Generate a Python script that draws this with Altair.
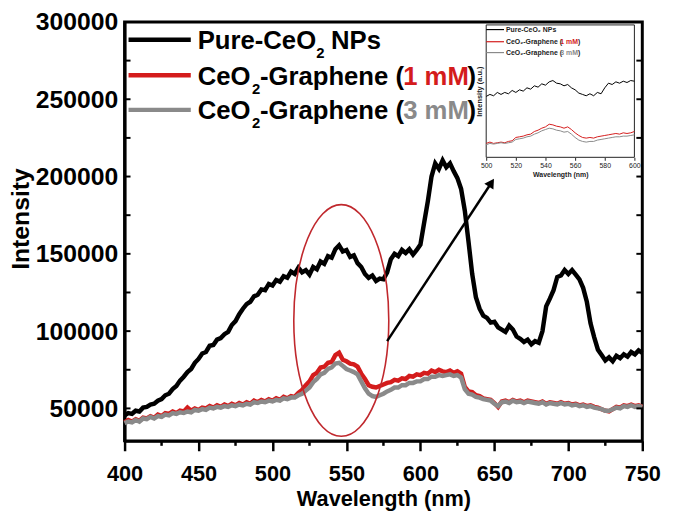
import altair as alt
import pandas as pd

FONT = "Liberation Sans"

# ---------------- data ----------------
wavelength = [400 + 2.5 * i for i in range(141)]

pure_ceo2 = [
    45500, 47000, 46500, 48500, 48000, 50500, 51000, 52500, 53000, 55000,
    56000, 58500, 59500, 62500, 64500, 68000, 70500, 73500, 75500, 79500,
    82000, 85500, 86500, 90500, 91000, 94500, 95500, 98000, 99500, 104000,
    106500, 111000, 114500, 117500, 119000, 122500, 123500, 127000, 126500, 130500,
    129500, 133000, 132000, 135500, 134500, 138500, 137000, 141000, 138000, 139500,
    136500, 141500, 140000, 145000, 143500, 148500, 147500, 153000, 155500, 151500,
    152500, 148000, 149000, 144000, 141500, 137000, 134500, 136000, 132500, 134000,
    133500, 138000, 146500, 150000, 148500, 152500, 150500, 153000, 149500, 152500,
    156000, 170000, 184000, 200000, 208500, 205000, 210500, 206000, 208500, 203500,
    199000, 192000, 178000, 158000, 137000, 122000, 114500, 110000, 108500, 105500,
    106000, 102500, 101000, 99500, 103500, 101000, 96500, 95000, 93000, 94500,
    91500, 93500, 92500, 100000, 116000, 121000, 126500, 135000, 136000, 139500,
    137000, 139500, 136500, 133500, 128000, 119000, 105000, 96000, 88000, 84500,
    81000, 83000, 80500, 84000, 82500, 85000, 83500, 86500, 85000, 87500,
    86000,
]

graphene_1mM = [
    41000, 42500, 41500, 43000, 42000, 44000, 43500, 45000, 44000, 46000,
    45000, 47000, 46500, 48000, 47000, 48500, 48000, 50500, 48500, 50000,
    49000, 50500, 50000, 51500, 50500, 52000, 51000, 52500, 51500, 53000,
    52000, 53500, 52500, 54000, 53000, 55000, 54000, 55500, 54500, 56000,
    55000, 56500, 55500, 57500, 56500, 58000, 57500, 60000, 62000, 65000,
    67500, 71500, 73000, 76500, 77000, 79500, 80000, 84500, 86000, 81500,
    80500, 79000, 78500, 77000, 72500, 69000, 65000, 64000, 63500, 64500,
    65500, 66500, 67000, 68500, 68000, 69500, 69000, 71000, 70500, 72000,
    71500, 73000, 72500, 74500, 73500, 75000, 74000, 73500, 74500, 73000,
    74000, 72500, 64000, 61000, 60500, 58500, 58000, 56500, 56000, 55500,
    53500, 51000, 54500, 55000, 54000, 55500, 54500, 55000, 54000, 55000,
    54500, 54000, 53500, 54500, 53000, 54000, 53500, 53000, 54000, 53000,
    53500, 52500, 53000, 52000, 52500, 51500, 52000, 51000, 50500, 49500,
    48500, 48000, 49500, 51000, 50500, 52000, 51500, 52500, 51500, 52000,
    51000,
]

graphene_3mM = [
    40500, 41500, 41000, 42500, 41500, 43500, 43000, 44500, 43500, 45000,
    44500, 46000, 45500, 47000, 46500, 47500, 47000, 48000, 47500, 49000,
    48500, 49500, 49000, 50500, 50000, 51000, 50500, 51500, 51000, 52000,
    51500, 52500, 52000, 53000, 52500, 54000, 53500, 54500, 54000, 55000,
    54500, 55500, 55000, 56500, 56000, 57000, 57000, 58500, 59500, 61500,
    63500, 67000, 69000, 72000, 73000, 75500, 76500, 79000, 79500, 77500,
    75500, 74500, 73500, 72000, 67500, 63000, 59500, 58000, 57500, 58500,
    59500, 61000, 62000, 63500, 63500, 65000, 65000, 66500, 66500, 67500,
    67500, 69000, 69000, 70500, 70500, 71500, 71000, 71500, 72000, 71000,
    71500, 70000, 62500, 59500, 59000, 57500, 57000, 56000, 55500, 55000,
    53000, 51500, 54000, 54500, 53500, 55000, 54000, 54500, 53500, 54500,
    54000, 53500, 53000, 54000, 52500, 53500, 53000, 52500, 53500, 52500,
    53000, 52000, 52500, 51500, 52000, 51000, 51500, 50500, 50000, 49500,
    48500, 48500, 49500, 50500, 50000, 51500, 51000, 52000, 51000, 51500,
    51000,
]

inset_wavelength = [500 + 2.5 * i for i in range(41)]

inset_pure = [
    46, 47.5, 46.5, 49, 47.5, 49, 48, 50.5, 49, 51,
    50, 52.5, 51.5, 54, 53, 55.5, 54.5, 57, 58, 56,
    55.5, 54, 55, 52.5, 51, 48.5, 47.5, 46.5, 48, 46.5,
    49, 48, 52.5, 56, 55, 57, 56, 57.5, 56.5, 58,
    57.5,
]
inset_1mM = [
    10.5, 11.5, 10.5, 11, 11.5, 11, 12, 12.5, 15, 15.5,
    16, 17, 17.5, 19.5, 20.5, 22, 23, 25, 24.5, 23.5,
    23, 22, 23, 21, 18.5, 16.5, 15, 14.5, 15, 14.5,
    15.5, 16, 16.5, 17, 17.5, 18, 17.5, 18.5, 18, 18.5,
    19.5,
]
inset_3mM = [
    9.5, 10.5, 10, 10.5, 11, 10.5, 11, 11.5, 13.5, 14,
    14.5, 15.5, 16, 17.5, 18.5, 20, 21, 22, 21.5, 20.5,
    20, 19, 19.5, 17.5, 15, 13, 12, 11.5, 12, 12,
    13, 13.5, 14, 14.5, 15, 15.5, 15.5, 16, 16, 16.5,
    17,
]

x_ticks = [400, 450, 500, 550, 600, 650, 700, 750]
x_minor = [425, 475, 525, 575, 625, 675, 725]
y_ticks = [50000, 100000, 150000, 200000, 250000, 300000]
y_inner = [50000, 75000, 100000, 125000, 150000, 175000, 200000, 225000, 250000, 275000]
inset_ticks = [500, 520, 540, 560, 580, 600]

# annotation anchors (data coordinates)
ELLIPSE_CENTER = (546.5, 106900)
ARROW_START = (577.5, 93500)
ARROW_END = (648.0, 196000)

BLACK = "#000000"
RED = "#d41c1c"
GRAY = "#8a8a8a"
ELLIPSE_RED = "#c0282d"
INSET_TXT = "#222222"

W, H = 524, 424

# ---------------- tables ----------------
def series_df(x, y):
    return pd.DataFrame({"wl": x, "I": y})

df_pure = series_df(wavelength, pure_ceo2)
df_1 = series_df(wavelength, graphene_1mM)
df_3 = series_df(wavelength, graphene_3mM)
di_pure = series_df(inset_wavelength, inset_pure)
di_1 = series_df(inset_wavelength, inset_1mM)
di_3 = series_df(inset_wavelength, inset_3mM)
one = pd.DataFrame({"k": [0]})

xs = alt.Scale(domain=[400, 750], nice=False, zero=False)
ys = alt.Scale(domain=[29000, 300000], nice=False, zero=False)

x_axis = alt.Axis(
    values=x_ticks, format="d", title="Wavelength (nm)", grid=False,
    labelFont=FONT, labelFontSize=22, labelFontWeight="bold", labelColor="black",
    labelPadding=13, labelFlush=False, labelOverlap=False,
    tickSize=10, tickWidth=2.5, tickColor="black",
    domainColor="black", domainWidth=3,
    titleFont=FONT, titleFontSize=22, titleFontWeight="bold", titleColor="black",
    titlePadding=4,
)
y_axis = alt.Axis(
    values=y_ticks, format="d", title="Intensity", grid=False,
    labelFont=FONT, labelFontSize=25, labelFontWeight="bold", labelColor="black",
    labelPadding=7, labelFlush=False, labelOverlap=False,
    ticks=False, tickSize=0,
    domainColor="black", domainWidth=3,
    titleFont=FONT, titleFontSize=25, titleFontWeight="bold", titleColor="black",
    titleAngle=270, titleAlign="center", titleBaseline="middle",
    titleX=-105, titleY=199,
)


def main_line(df, color):
    return alt.Chart(df).mark_line(color=color, strokeWidth=4.5).encode(
        x=alt.X("wl:Q", scale=xs, axis=x_axis),
        y=alt.Y("I:Q", scale=ys, axis=y_axis),
    )


def txt(s, x, y, size, color="black", weight="bold", align="left", baseline="alphabetic"):
    return alt.Chart(one).mark_text(
        text=s, font=FONT, fontSize=size, fontWeight=weight, color=color,
        align=align, baseline=baseline,
    ).encode(x=alt.value(x), y=alt.value(y))


def hline(x1, x2, y, color, w):
    return alt.Chart(one).mark_rule(color=color, strokeWidth=w).encode(
        x=alt.value(x1), x2=alt.value(x2), y=alt.value(y)
    )


minor_x = alt.Chart(pd.DataFrame({"wl": x_minor})).mark_rule(
    color="black", strokeWidth=2.5
).encode(x=alt.X("wl:Q", scale=xs), y=alt.value(H), y2=alt.value(H + 5))

inner_left = alt.Chart(pd.DataFrame({"I": y_inner})).mark_rule(
    color="black", strokeWidth=2
).encode(y=alt.Y("I:Q", scale=ys), x=alt.value(0), x2=alt.value(6))
inner_right = alt.Chart(pd.DataFrame({"I": y_inner})).mark_rule(
    color="black", strokeWidth=2
).encode(y=alt.Y("I:Q", scale=ys), x=alt.value(W - 6), x2=alt.value(W))

ELLIPSE_PATH = "M -0.41 0 A 0.41 1 0 1 1 0.41 0 A 0.41 1 0 1 1 -0.41 0 Z"
ellipse = alt.Chart(one).mark_point(
    shape=ELLIPSE_PATH, filled=False, color=ELLIPSE_RED, strokeWidth=1.6,
    size=55000, opacity=1,
).encode(x=alt.datum(ELLIPSE_CENTER[0]), y=alt.datum(ELLIPSE_CENTER[1]))

arrow_line = alt.Chart(one).mark_rule(color="black", strokeWidth=2.5).encode(
    x=alt.datum(ARROW_START[0]), y=alt.datum(ARROW_START[1]),
    x2=alt.datum(ARROW_END[0]), y2=alt.datum(ARROW_END[1]),
)
arrow_head = alt.Chart(one).mark_point(
    shape="triangle-up", filled=True, color="black", size=120, angle=33, opacity=1
).encode(x=alt.datum(ARROW_END[0]), y=alt.datum(ARROW_END[1]))

LF = 26
legend_main = [
    hline(4, 67, 18, BLACK, 4.5),
    hline(4, 67, 54, RED, 4.5),
    hline(4, 67, 89, GRAY, 4.5),
    txt("Pure-CeO", 74, 27, LF),
    txt("2", 194, 36, 15),
    txt("NPs", 209, 27, LF),
    txt("CeO", 74, 63.7, LF),
    txt("2", 129, 72.7, 15),
    txt("-Graphene (", 137, 63.7, LF),
    txt("1 mM", 282, 63.7, LF, color=RED),
    txt(")", 347, 63.7, LF),
    txt("CeO", 74, 98.7, LF),
    txt("2", 129, 107.7, 15),
    txt("-Graphene (", 137, 98.7, LF),
    txt("3 mM", 282, 98.7, LF, color=GRAY),
    txt(")", 347, 98.7, LF),
]

main = alt.layer(
    main_line(df_pure, BLACK),
    main_line(df_1, RED),
    main_line(df_3, GRAY),
    minor_x, inner_left, inner_right,
    ellipse, arrow_line, arrow_head,
    *legend_main,
)

# ---------------- inset ----------------
ixs = alt.Scale(domain=[500, 600], range=[366, 516], nice=False, zero=False)
iys = alt.Scale(domain=[0, 100], range=[137, 3], nice=False, zero=False)
ix_axis = alt.Axis(
    values=inset_ticks, format="d", orient="bottom", offset=-(H - 137), grid=False,
    domain=False, tickSize=3, tickColor=INSET_TXT, tickWidth=1,
    labelFont=FONT, labelFontSize=7, labelColor=INSET_TXT, labelPadding=1,
    labelFlush=False, labelOverlap=False,
    title="Wavelength (nm)", titleFont=FONT, titleFontSize=7,
    titleFontWeight="bold", titleColor=INSET_TXT, titlePadding=2,
)
iy_axis = alt.Axis(
    orient="left", offset=-366, labels=False, ticks=False, domain=False, grid=False,
    title="Intensity (a.u.)", titleFont=FONT, titleFontSize=7.5,
    titleFontWeight="bold", titleColor=INSET_TXT, titlePadding=3,
)

inset_box = alt.Chart(one).mark_rect(
    fill="white", stroke=INSET_TXT, strokeWidth=1
).encode(
    x=alt.datum(500), x2=alt.datum(600), y=alt.datum(0), y2=alt.datum(100)
)


def inset_line(df, color):
    return alt.Chart(df).mark_line(color=color, strokeWidth=1).encode(
        x=alt.X("wl:Q", scale=ixs, axis=ix_axis),
        y=alt.Y("I:Q", scale=iys, axis=iy_axis),
    )


legend_inset = [
    hline(366, 384, 7.7, BLACK, 1.2),
    hline(366, 384, 20, RED, 1.2),
    hline(366, 384, 31, GRAY, 1.2),
    txt("Pure-CeO\u2082 NPs", 386, 10.3, 7, color=INSET_TXT),
    txt("CeO\u2082-Graphene (", 386, 22.6, 7, color=INSET_TXT),
    txt("1 mM", 441, 22.6, 7, color=RED),
    txt(")", 459, 22.6, 7, color=INSET_TXT),
    txt("CeO\u2082-Graphene (", 386, 33.6, 7, color=INSET_TXT),
    txt("3 mM", 441, 33.6, 7, color=GRAY),
    txt(")", 459, 33.6, 7, color=INSET_TXT),
]

inset = alt.layer(
    inset_box,
    inset_line(di_pure, BLACK),
    inset_line(di_1, RED),
    inset_line(di_3, GRAY),
    *legend_inset,
)

chart = (
    alt.layer(main, inset)
    .resolve_scale(x="independent", y="independent")
    .properties(
        width=W, height=H,
        padding={"left": 118, "top": 11, "right": 25, "bottom": 81},
        autosize=alt.AutoSizeParams(type="none"),
        background="white",
    )
    .configure_view(stroke="black", strokeWidth=3)
)

chart.save("out.html", embed_options={"renderer": "svg", "actions": False})
